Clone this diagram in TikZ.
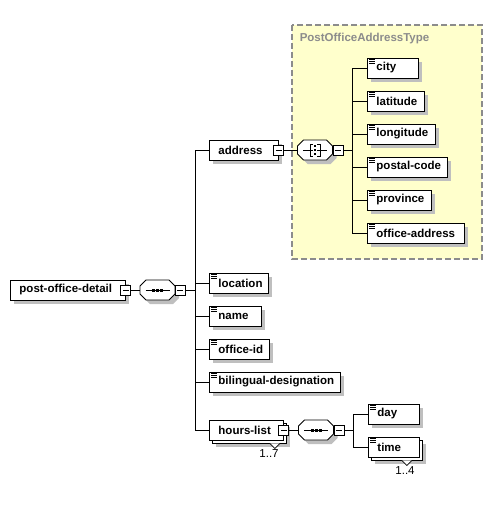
\documentclass[tikz,border=0pt]{standalone}
\usepackage{fontspec}
\setmainfont{Liberation Sans}
\usetikzlibrary{shadows}

\definecolor{typefill}{HTML}{FFFFCC}
\definecolor{typeline}{HTML}{8C8C8C}

\tikzset{
  base/.style={draw, fill=white, anchor=west, minimum height=20pt, inner xsep=9pt, inner ysep=0pt,
    align=left, font={\fontsize{11.5}{13}\selectfont\bfseries},
    execute at begin node={\hyphenpenalty=10000\exhyphenpenalty=10000\hbadness=10000\hfuzz=20pt}},
  elem/.style={base, general shadow={fill=black!25, shadow xshift=4pt, shadow yshift=-4pt}},
  multi/.style={base, general shadow={fill=black!25, shadow xshift=7pt, shadow yshift=-7pt},
    copy shadow={shadow xshift=3pt, shadow yshift=-3pt}},
  minus/.style={draw, fill=white, minimum size=10pt, inner sep=0pt,
    path picture={\draw ([xshift=2pt]path picture bounding box.west) -- ([xshift=-2pt]path picture bounding box.east);}},
  comp/.style={minimum width=35pt, minimum height=20pt, inner sep=0pt},
  occurs/.style={font=\fontsize{11.5}{13}\selectfont}
}

\begin{document}
\begin{tikzpicture}[x=1pt, y=-1pt, line width=0.9pt]
  \useasboundingbox (0,0) rectangle (492,508);

  % address type area
  \draw[typeline, fill=typefill, line width=1.2pt, dash pattern=on 6pt off 3pt] (292,25) rectangle (482,259);
  \node[anchor=west, text=typeline, font={\fontsize{11.5}{13}\selectfont\bfseries}] (typename) at (296,39) {PostOfficeAddressType};

  % compositors
  \node[comp] (seqA) at (157.5,290) {};
  \node[comp] (choiceA) at (315,150) {};
  \node[comp] (seqB) at (316,430) {};
  \foreach \c in {seqA,choiceA,seqB} {
    \fill[black!25] ([shift={(4pt,-4pt)}]\c.center) +(-17.5,-4) -- +(-11.5,-10) -- +(11.5,-10) -- +(17.5,-4)
      -- +(17.5,4) -- +(11.5,10) -- +(-11.5,10) -- +(-17.5,4) -- cycle;
    \draw[fill=white] (\c.center) +(-17.5,-4) -- +(-11.5,-10) -- +(11.5,-10) -- +(17.5,-4)
      -- +(17.5,4) -- +(11.5,10) -- +(-11.5,10) -- +(-17.5,4) -- cycle;
  }
  \node[minus] (seqAM) at ([xshift=5pt]seqA.east) {};
  \node[minus] (choiceAM) at ([xshift=5pt]choiceA.east) {};
  \node[minus] (seqBM) at ([xshift=5pt]seqB.east) {};

  % root
  \node[elem, text width=97pt] (pod) at (10,290) {post-office-detail};
  \node[minus] (podM) at (pod.east) {};
  \coordinate (busA) at (195,290);

  % children of root
  \node[elem, text width=51pt] (address) at (209,150) {address};
  \node[minus] (addressM) at (address.east) {};
  \node[elem, text width=41pt] (location) at (209,283) {location};
  \node[elem, text width=34pt] (name) at (209,316) {name};
  \node[elem, text width=42pt] (officeid) at (209,349) {office-id};
  \node[elem, text width=113pt] (bilingual) at (209,382) {bilingual-designation};
  \node[multi, text width=56pt] (hours) at (209,430) {hours-list};
  \node[minus] (hoursM) at (hours.east) {};
  \node[occurs] (hoursN) at (269,454) {1..7};

  % address type children
  \coordinate (busB) at (352,150);
  \node[elem, text width=33pt] (city) at (367,68) {city};
  \node[elem, text width=39pt] (latitude) at (367,101) {latitude};
  \node[elem, text width=50pt] (longitude) at (367,134) {longitude};
  \node[elem, text width=62pt] (postal) at (367,167) {postal-code};
  \node[elem, text width=46pt] (province) at (367,200) {province};
  \node[elem, text width=79pt] (officeaddr) at (367,233) {office-address};

  % hours children
  \coordinate (busC) at (353,430);
  \node[elem, text width=33pt] (day) at (368,414) {day};
  \node[multi, text width=33pt] (time) at (368,447) {time};
  \node[occurs] (timeN) at (405,471) {1..4};

  % connectors
  \draw (podM.east) -- (seqA.west);
  \draw (seqAM.east) -- (busA);
  \foreach \n in {address,location,name,officeid,bilingual,hours}
    \draw (busA) |- (\n.west);
  \draw (addressM.east) -- (choiceA.west);
  \draw (choiceAM.east) -- (busB);
  \foreach \n in {city,latitude,longitude,postal,province,officeaddr}
    \draw (busB) |- (\n.west);
  \draw (hoursM.east) -- (seqB.west);
  \draw (seqBM.east) -- (busC);
  \foreach \n in {day,time}
    \draw (busC) |- (\n.west);

  % sequence marks
  \foreach \s in {seqA,seqB} {
    \draw ([xshift=-12pt]\s.center) -- ([xshift=12pt]\s.center);
    \foreach \d in {-4,0,4}
      \fill ([xshift=\d pt]\s.center) +(-1.5,-1.5) rectangle +(1.5,1.5);
  }

  % choice mark
  \draw ([xshift=-12pt]choiceA.center) -- ([xshift=-2pt]choiceA.center);
  \draw ([xshift=2pt]choiceA.center) -- ([xshift=12pt]choiceA.center);
  \draw (choiceA.center) +(-2,-6) -- +(-5,-6) -- +(-5,6) -- +(-2,6);
  \draw (choiceA.center) +(2,-6) -- +(5,-6) -- +(5,6) -- +(2,6);
  \foreach \d in {-4,0,4}
    \fill (choiceA.center) +(-1.2,\d-1.2) rectangle +(1.2,\d+1.2);

  % occurrence notches
  \draw[fill=white, line width=0.7pt] ([shift={(-14pt,-3pt)}]hours.south east) -- ++(5,5) -- ++(5,-5);
  \draw[fill=white, line width=0.7pt] ([shift={(-18pt,-3pt)}]time.south east) -- ++(5,5) -- ++(5,-5);

  % simple-content marks
  \foreach \n in {location,name,officeid,bilingual,city,latitude,longitude,postal,province,officeaddr,day,time}
    \foreach \k in {2,4,6}
      \draw[line width=0.8pt] ([shift={(2pt,-\k pt)}]\n.north west) -- ++(6,0);
\end{tikzpicture}
\end{document}
